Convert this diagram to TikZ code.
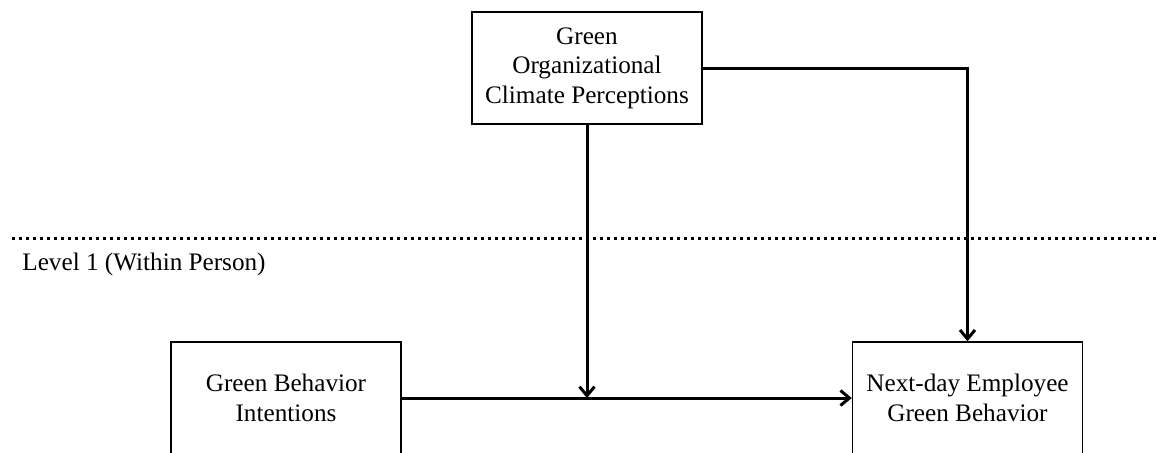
\documentclass[tikz,border=0pt]{standalone}
\usepackage{fontspec}
\setmainfont{Liberation Serif}
\usetikzlibrary{arrows.meta}
\tikzset{
  varbox/.style={draw, line width=0.7pt, minimum width=115pt, minimum height=56pt,
    align=center, inner sep=2pt, font=\fontsize{12.6}{14.8}\selectfont},
  link/.style={line width=1.5pt, -{Straight Barb[length=4.5pt,width=7.5pt]}}
}
\begin{document}
\begin{tikzpicture}[x=0.5pt,y=-0.5pt]
  \useasboundingbox (0,0) rectangle (1157,452);
  \clip (0,0) rectangle (1157,452);

  % level 2 and level 1 variables
  \node[varbox] (climate) at (587,68) {Green\\Organizational\\Climate Perceptions};
  \node[varbox] (intent) at (286,398) {Green Behavior\\Intentions};
  \node[varbox] (behav) at (967.5,398) {Next-day Employee\\Green Behavior};
  \coordinate (mod) at (climate.south |- intent.east);

  % paths
  \draw[link] (intent) -- (behav);
  \draw[link] (climate) -- (mod);
  \draw[link] (climate.east) -| (behav.north);

  % level separator
  \draw[line width=1.5pt, dash pattern=on 1.5pt off 2pt] (12,238) -- (1157,238);
  \node[anchor=base west, inner sep=0pt, font=\fontsize{12.6}{14.8}\selectfont] (level) at (22,270) {Level 1 (Within Person)};
\end{tikzpicture}
\end{document}
